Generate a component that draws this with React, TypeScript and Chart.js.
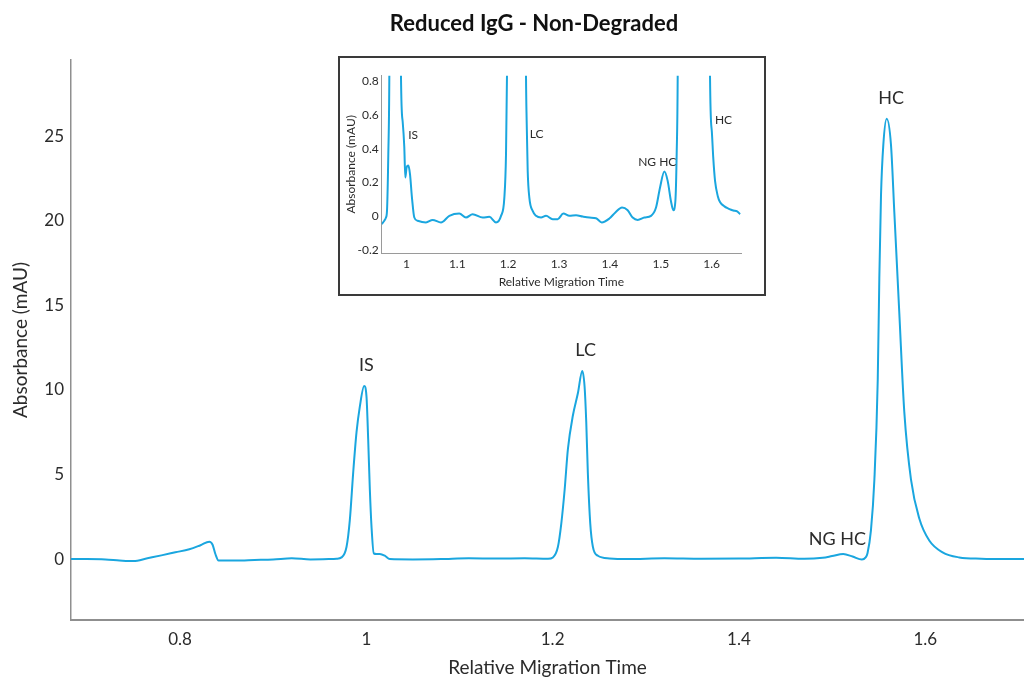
import { useEffect, useRef } from 'react';
import { Chart, registerables } from 'chart.js';
Chart.register(...registerables);
Chart.defaults.font.family = 'Lato';

// ---- Main electropherogram (Relative Migration Time vs Absorbance, mAU)
const mainTime = [
  0.683, 0.70, 0.72, 0.735, 0.75, 0.765, 0.78, 0.795, 0.81, 0.822,
  0.8315, 0.835, 0.838, 0.8414, 0.86, 0.88, 0.90, 0.92, 0.94, 0.96,
  0.968, 0.9734, 0.9788, 0.9823, 0.9859, 0.9895, 0.993, 0.9977, 1.0002, 1.002,
  1.0038, 1.0056, 1.008, 1.011, 1.0145, 1.0198, 1.0252, 1.05, 1.08, 1.11,
  1.14, 1.17, 1.195, 1.2003, 1.2057, 1.2093, 1.2129, 1.2164, 1.2218, 1.2271,
  1.2318, 1.2343, 1.2361, 1.2378, 1.2404, 1.2432, 1.2486, 1.2611, 1.28, 1.32,
  1.36, 1.40, 1.44, 1.47, 1.49, 1.50, 1.512, 1.522, 1.532, 1.536,
  1.538, 1.5417, 1.5454, 1.549, 1.5507, 1.5525, 1.555, 1.5586, 1.5632, 1.5668,
  1.5721, 1.5775, 1.5847, 1.5936, 1.6043, 1.6186, 1.6365, 1.66, 1.69, 1.706,
];
const mainAbs = [
  0, 0, -0.02, -0.08, -0.12, 0.05, 0.22, 0.4, 0.58, 0.82,
  1.03, 0.85, 0.3, -0.08, -0.08, -0.05, -0.02, 0.05, -0.02, 0,
  0.02, 0.1, 0.73, 2.3, 5.1, 7.5, 9.0, 10.23, 9.6, 7.1,
  4.1, 1.9, 0.34, 0.3, 0.3, 0.2, 0, -0.02, 0, 0.05,
  0.03, 0.05, 0.02, 0.1, 0.73, 2.1, 4.1, 6.5, 8.5, 9.8,
  11.12, 10.2, 8.1, 5.1, 2.1, 0.73, 0.2, 0.04, 0, 0.05,
  0.02, 0.03, 0.08, 0.02, 0.08, 0.18, 0.3, 0.15, -0.03, 0.1,
  0.35, 1.7, 4.7, 10.6, 16.6, 21.5, 24.5, 26.03, 24.5, 20.5,
  14.6, 8.7, 4.7, 2.4, 1.1, 0.4, 0.1, 0.02, 0, 0,
];
const mainXTicks = [0.8, 1, 1.2, 1.4, 1.6];
const mainYTicks = [0, 5, 10, 15, 20, 25];

// ---- Inset (zoom near baseline)
const insetTime = [
  0.9514, 0.9566, 0.9599, 0.9619, 0.9645, 0.9665, 0.978, 0.9894, 0.9927, 0.9959,
  0.9979, 1.0005, 1.0038, 1.0071, 1.011, 1.0156, 1.0221, 1.0385, 1.0516, 1.068,
  1.0844, 1.104, 1.1171, 1.1302, 1.15, 1.163, 1.1761, 1.186, 1.1925, 1.1958,
  1.1977, 1.2165, 1.2351, 1.2364, 1.2384, 1.2417, 1.2482, 1.2548, 1.2646, 1.2744,
  1.2875, 1.2973, 1.3085, 1.3203, 1.3334, 1.3465, 1.3596, 1.3727, 1.3839, 1.3989,
  1.4107, 1.4238, 1.4349, 1.4447, 1.4546, 1.4677, 1.4808, 1.4906, 1.4984, 1.507,
  1.5135, 1.52, 1.5246, 1.5286, 1.5312, 1.5332, 1.565, 1.5967, 1.6003, 1.603,
  1.6066, 1.612, 1.6163, 1.625, 1.6327, 1.638, 1.6425, 1.65, 1.6557,
];
const insetAbs = [
  -0.045, -0.025, -0.006, 0.033, 0.37, 0.83, 10, 0.83, 0.56, 0.41,
  0.23, 0.29, 0.30, 0.25, 0.11, -0.006, -0.025, -0.035, -0.02, -0.035,
  0.004, 0.018, -0.006, 0.014, -0.006, -0.002, -0.035, 0.004, 0.11, 0.37,
  0.83, 11, 0.83, 0.56, 0.27, 0.11, 0.033, 0.004, -0.006, 0.004,
  -0.016, -0.016, 0.018, 0.004, 0.008, 0, -0.006, -0.01, -0.035, -0.012,
  0.024, 0.053, 0.037, -0.006, -0.02, -0.006, 0.004, 0.053, 0.17, 0.265,
  0.21, 0.09, 0.037, 0.09, 0.37, 0.83, 26, 0.83, 0.5, 0.35,
  0.21, 0.12, 0.086, 0.06, 0.047, 0.04, 0.035, 0.03, 0.014,
];
const insetXTicks = [1, 1.1, 1.2, 1.3, 1.4, 1.5, 1.6];
const insetYTicks = [-0.2, 0, 0.2, 0.4, 0.6, 0.8];

// ---- Peak annotations (data coordinates)
const peakNames = ['IS', 'LC', 'NG HC', 'HC'];
const mainLabelX = [1.0, 1.2354, 1.5056, 1.5635];
const mainLabelY = [11.46, 12.35, 1.19, 27.26];
const insetLabelX = [1.0134, 1.2561, 1.4931, 1.6232];
const insetLabelY = [0.479, 0.484, 0.3235, 0.569];

const LINE_COLOR = '#1aa6df';
const TEXT = '#2b2b2b';

function labelPlugin(id: string, xs: number[], ys: number[], font: string) {
  return {
    id,
    afterDatasetsDraw(chart: any) {
      const { ctx, scales } = chart;
      ctx.save();
      ctx.font = font;
      ctx.fillStyle = TEXT;
      ctx.textAlign = 'center';
      ctx.textBaseline = 'middle';
      peakNames.forEach((n, i) => {
        ctx.fillText(n, scales.x.getPixelForValue(xs[i]), scales.y.getPixelForValue(ys[i]));
      });
      ctx.restore();
    },
  };
}

function makeTicks(values: number[]) {
  return (scale: any) => {
    scale.ticks = values.map((v) => ({ value: v }));
  };
}

export default function App() {
  const mainRef = useRef<HTMLCanvasElement>(null);
  const insetRef = useRef<HTMLCanvasElement>(null);

  useEffect(() => {
    const main = new Chart(mainRef.current!, {
      type: 'line',
      data: {
        datasets: [
          {
            data: mainTime.map((t, i) => ({ x: t, y: mainAbs[i] })),
            borderColor: LINE_COLOR,
            borderWidth: 2,
            pointRadius: 0,
            cubicInterpolationMode: 'monotone',
            fill: false,
          },
        ],
      },
      options: {
        animation: false,
        responsive: true,
        maintainAspectRatio: false,
        layout: { padding: { top: 60, left: 0, right: 0, bottom: 0 } },
        plugins: { legend: { display: false }, tooltip: { enabled: false }, title: { display: false } },
        scales: {
          x: {
            type: 'linear',
            min: 0.683,
            max: 1.706,
            afterBuildTicks: makeTicks(mainXTicks),
            afterFit: (s: any) => { s.height = 59; },
            grid: { display: false, drawTicks: false },
            border: { display: true, color: '#8f8f8f', width: 2 },
            ticks: { padding: 9, color: TEXT, font: { size: 17 }, maxRotation: 0, autoSkip: false, callback: (v: any) => String(v) },
            title: { display: true, text: 'Relative Migration Time', color: TEXT, font: { size: 19 }, padding: { top: 0, bottom: 0 } },
          },
          y: {
            type: 'linear',
            min: -3.6,
            max: 29.5,
            afterBuildTicks: makeTicks(mainYTicks),
            afterFit: (s: any) => { s.width = 71; },
            grid: { display: false, drawTicks: false },
            border: { display: true, color: '#8f8f8f', width: 1.5 },
            ticks: { padding: 7, color: TEXT, font: { size: 17 }, autoSkip: false, callback: (v: any) => String(v) },
            title: { display: true, text: 'Absorbance (mAU)', color: TEXT, font: { size: 19 }, padding: { top: 9, bottom: 0 } },
          },
        },
      },
      plugins: [labelPlugin('mainLabels', mainLabelX, mainLabelY, '18px Lato')],
    } as any);

    const inset = new Chart(insetRef.current!, {
      type: 'line',
      data: {
        datasets: [
          {
            data: insetTime.map((t, i) => ({ x: t, y: insetAbs[i] })),
            borderColor: LINE_COLOR,
            borderWidth: 2,
            pointRadius: 0,
            cubicInterpolationMode: 'monotone',
            fill: false,
          },
        ],
      },
      options: {
        animation: false,
        responsive: true,
        maintainAspectRatio: false,
        layout: { padding: { top: 17.7, left: 0, right: 23, bottom: 0 } },
        plugins: { legend: { display: false }, tooltip: { enabled: false }, title: { display: false } },
        scales: {
          x: {
            type: 'linear',
            min: 0.9515,
            max: 1.6576,
            afterBuildTicks: makeTicks(insetXTicks),
            afterFit: (s: any) => { s.height = 41; },
            grid: { display: false, drawTicks: false },
            border: { display: true, color: '#9a9a9a', width: 1 },
            ticks: { padding: 4, color: TEXT, font: { size: 12 }, maxRotation: 0, autoSkip: false, callback: (v: any) => String(v) },
            title: { display: true, text: 'Relative Migration Time', color: TEXT, font: { size: 12 }, padding: { top: 0, bottom: 5 } },
          },
          y: {
            type: 'linear',
            min: -0.215,
            max: 0.83,
            afterBuildTicks: makeTicks(insetYTicks),
            afterFit: (s: any) => { s.width = 41.7; },
            grid: { display: false, drawTicks: false },
            border: { display: true, color: '#9a9a9a', width: 1 },
            ticks: { padding: 3, color: TEXT, font: { size: 12 }, autoSkip: false, callback: (v: any) => String(v) },
            title: { display: true, text: 'Absorbance (mAU)', color: TEXT, font: { size: 12 }, padding: { top: 4, bottom: 0 } },
          },
        },
      },
      plugins: [labelPlugin('insetLabels', insetLabelX, insetLabelY, '12px Lato')],
    } as any);

    return () => {
      main.destroy();
      inset.destroy();
    };
  }, []);

  return (
    <div style={{ position: 'absolute', left: 0, top: 0, width: 1024, height: 679, background: '#fff', overflow: 'hidden' }}>
      <div style={{ position: 'absolute', left: 0, top: 0, width: 1024, height: 679 }}>
        <canvas ref={mainRef} />
      </div>
      <div
        style={{
          position: 'absolute',
          left: 0,
          top: 10,
          width: 1068,
          textAlign: 'center',
          font: 'bold 22px Lato',
          lineHeight: '25px',
          color: '#111',
        }}
      >
        Reduced IgG - Non-Degraded
      </div>
      <div
        style={{
          position: 'absolute',
          left: 338,
          top: 56,
          width: 428,
          height: 240,
          border: '2px solid #3a3a3a',
          boxSizing: 'border-box',
          background: '#fff',
        }}
      >
        <div style={{ position: 'relative', width: 424, height: 236 }}>
          <canvas ref={insetRef} />
        </div>
      </div>
    </div>
  );
}
